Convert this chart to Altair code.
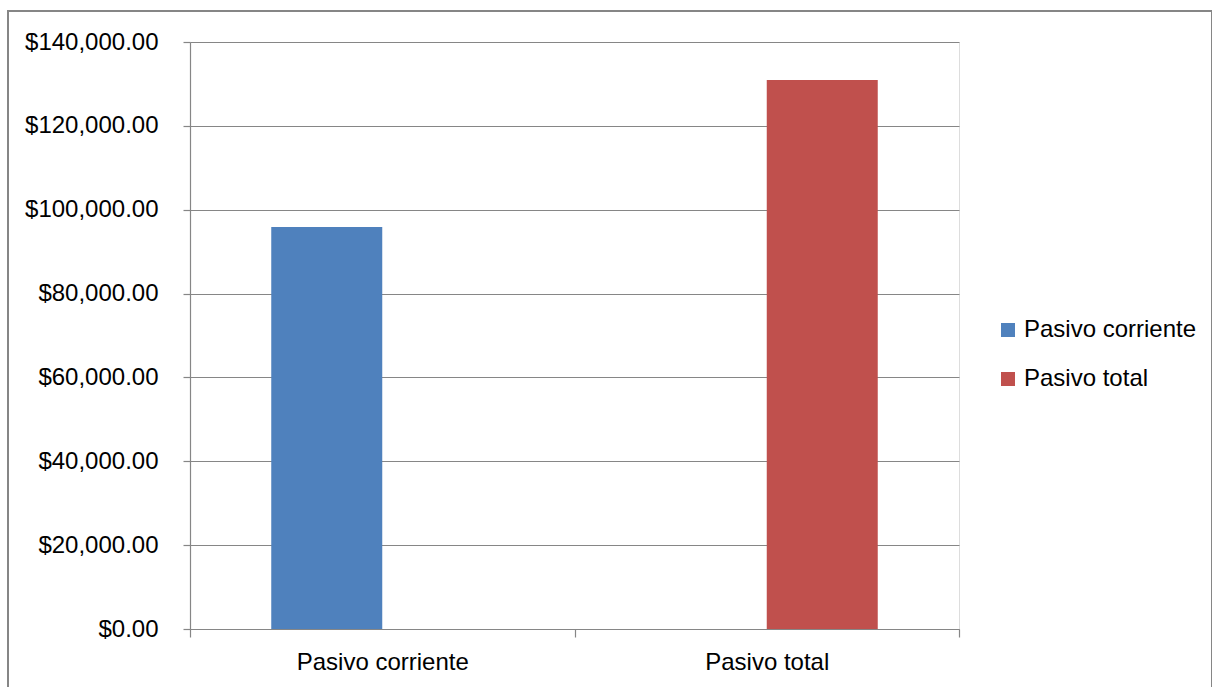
import altair as alt
import pandas as pd

categories = ["Pasivo corriente", "Pasivo total"]
series = ["Pasivo corriente", "Pasivo total"]
values = [95880, 130940]
colors = ["#4F81BD", "#C0504D"]
y_ticks = [0, 20000, 40000, 60000, 80000, 100000, 120000, 140000]

df = pd.DataFrame({"categoria": categories, "serie": series, "valor": values})

FONT = "Liberation Sans"
GRAY = "#868686"

bars = alt.Chart(df).mark_bar().encode(
    x=alt.X(
        "categoria:N",
        sort=categories,
        title=None,
        scale=alt.Scale(paddingInner=0, paddingOuter=0),
        axis=alt.Axis(
            labelAngle=0,
            labelFont=FONT,
            labelFontSize=24,
            labelColor="black",
            labelPadding=13,
            tickBand="extent",
            tickSize=8,
            tickColor=GRAY,
            tickWidth=1.2,
            domainColor=GRAY,
            domainWidth=1.2,
            grid=False,
        ),
    ),
    xOffset=alt.XOffset(
        "serie:N",
        sort=series,
        scale=alt.Scale(paddingInner=0, paddingOuter=0.732),
    ),
    y=alt.Y(
        "valor:Q",
        title=None,
        scale=alt.Scale(domain=[0, 140000], nice=False),
        axis=alt.Axis(
            values=y_ticks,
            format="$,.2f",
            labelFont=FONT,
            labelFontSize=24,
            labelColor="black",
            labelPadding=25,
            tickSize=7,
            tickColor=GRAY,
            tickWidth=1.2,
            domainColor=GRAY,
            domainWidth=1.2,
            gridColor=GRAY,
            gridWidth=1.2,
        ),
    ),
    color=alt.Color(
        "serie:N",
        sort=series,
        title=None,
        scale=alt.Scale(domain=series, range=colors),
        legend=alt.Legend(
            orient="none",
            legendX=806,
            legendY=276,
            symbolType="square",
            symbolSize=196,
            symbolStrokeWidth=0,
            labelFont=FONT,
            labelFontSize=24,
            labelColor="black",
            labelOffset=4,
            labelLimit=400,
            rowPadding=25,
            padding=0,
        ),
    ),
)

frame = alt.Chart(pd.DataFrame({"a": [0]})).mark_rect(
    fill=None, stroke=GRAY, strokeWidth=2, clip=False
).encode(
    x=alt.value(-182),
    x2=alt.value(1022),
    y=alt.value(-31),
    y2=alt.value(660),
)

chart = alt.layer(frame, bars).properties(
    width=769,
    height=587,
    autosize=alt.AutoSizeParams(type="none"),
    padding={"left": 190, "top": 42, "right": 253, "bottom": 58},
).configure_view(stroke=None).configure(background="white")

chart.save("out.html", embed_options={"renderer": "svg", "actions": False})
